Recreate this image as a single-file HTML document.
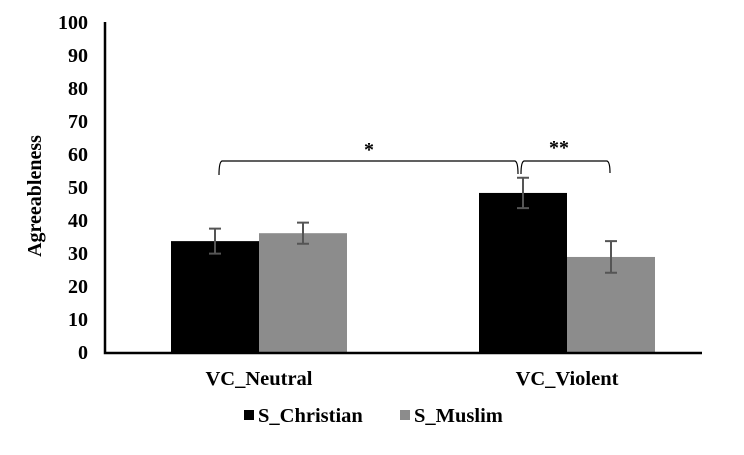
<!DOCTYPE html>
<html><head><meta charset="utf-8"><style>
body{margin:0;background:#fff}
svg text{font-family:"Liberation Serif",serif;font-weight:bold;fill:#000}
</style></head><body>
<svg id="c" width="744" height="450" xmlns="http://www.w3.org/2000/svg"></svg>
<script>
const categories=["VC_Neutral","VC_Violent"];
const seriesNames=["S_Christian","S_Muslim"];
const christian=[33.6,48.2];
const muslim=[36.0,28.8];
const christianErr=[3.8,4.6];
const muslimErr=[3.2,4.8];
const yTicks=[0,10,20,30,40,50,60,70,80,90,100];
const colors=["#000000","#8c8c8c"];
const svg=document.getElementById('c');
const NS="http://www.w3.org/2000/svg";
const y0=352,y1=22,xL=105,xR=702;
const y=v=>y0-(v/100)*(y0-y1);
const catX=i=>259+i*308;
const bw=88;
function el(t,a,txt){const e=document.createElementNS(NS,t);for(const k in a)e.setAttribute(k,a[k]);if(txt!==undefined)e.textContent=txt;svg.appendChild(e);return e;}
yTicks.forEach(v=>{const t=el('text',{x:88,y:y(v)+7,'text-anchor':'end','font-size':20},String(v));

});
const yt=el('text',{transform:'translate(41,196) rotate(-90)','text-anchor':'middle','font-size':20},'Agreeableness');


[christian,muslim].forEach((s,si)=>{
 const errs=si===0?christianErr:muslimErr;
 s.forEach((v,i)=>{
  const x=catX(i)-bw+si*bw;
  const r=el('rect',{x:x,y:y(v),width:bw,height:y0-y(v),fill:colors[si]});
  
  
  const cx=x+bw/2,hi=y(v+errs[i]),lo=y(v-errs[i]);
  const g=el('path',{d:`M${cx} ${hi}V${lo}M${cx-6} ${hi}H${cx+6}M${cx-6} ${lo}H${cx+6}`,stroke:'#555','stroke-width':2,fill:'none'});
  
  
 });
});
const ax=el('path',{d:`M${xL} ${y1}V${y0+1}H${xR}`,stroke:'#000','stroke-width':2.5,fill:'none'});


categories.forEach((c,i)=>{const t=el('text',{x:catX(i),y:385,'text-anchor':'middle','font-size':20.5},c);

});
const b1=el('path',{d:'M219 175Q219 162 222 161H515Q518 162 518 174',stroke:'#000','stroke-width':1.2,fill:'none'});


const b2=el('path',{d:'M521 174Q521 162 524 161H607Q610 162 610 173',stroke:'#000','stroke-width':1.2,fill:'none'});


const s1=el('text',{x:369,y:156,'text-anchor':'middle','font-size':20,'font-weight':'normal'},'*');


const s2=el('text',{x:559,y:154,'text-anchor':'middle','font-size':20,'font-weight':'normal'},'**');


const lx=[244,400];
seriesNames.forEach((n,i)=>{
 const r=el('rect',{x:lx[i],y:410,width:10,height:10,fill:colors[i]});
 
 
 const t=el('text',{x:lx[i]+14,y:422,'font-size':20.5},n);
 
 
});
</script>
</body></html>
